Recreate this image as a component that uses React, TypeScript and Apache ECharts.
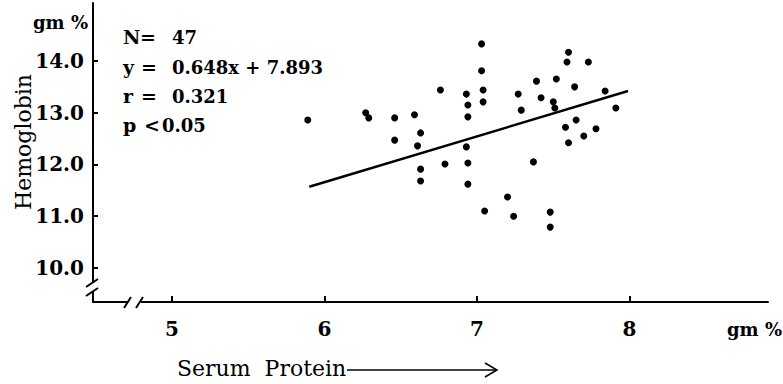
import React, { useEffect, useRef } from "react";
import * as echarts from "echarts";

// Serum protein (gm %) per subject
const proteinValues = [
  5.89, 6.27, 6.29, 6.46, 6.46, 6.59, 6.63, 6.61, 6.76, 6.93,
  6.94, 6.94, 6.93, 7.03, 7.03, 7.04, 7.04, 7.27, 7.29, 7.39,
  7.42, 7.5, 7.51, 7.52, 7.6, 7.59, 7.73, 7.64, 7.84, 7.91,
  7.58, 7.65, 7.78, 7.7, 7.6, 6.63, 6.63, 6.79, 6.94, 6.94,
  7.37, 7.2, 7.05, 7.24, 7.48, 7.48,
];
// Hemoglobin (gm %) per subject
const hemoglobinValues = [
  12.86, 13.0, 12.9, 12.9, 12.47, 12.96, 12.61, 12.36, 13.44, 13.36,
  13.15, 12.92, 12.34, 14.33, 13.81, 13.44, 13.21, 13.36, 13.05, 13.61,
  13.29, 13.21, 13.09, 13.65, 14.17, 13.98, 13.98, 13.5, 13.42, 13.09,
  12.72, 12.86, 12.69, 12.55, 12.42, 11.91, 11.68, 12.01, 12.03, 11.62,
  12.05, 11.37, 11.1, 11.0, 11.08, 10.79,
];
// Regression line end points as drawn
const lineX = [5.9, 7.99];
const lineY = [11.57, 13.42];

const xTicks = [5, 6, 7, 8];
const yTicks = [10, 11, 12, 13, 14];

const statLetters = ["N", "y", "r", "p"];
const statOps = ["=", "=", "=", "<"];
const statValues = ["47", "0.648x + 7.893", "0.321", "0.05"];

const FONT = "DejaVu Serif";

export default function App() {
  const ref = useRef<HTMLDivElement>(null);
  useEffect(() => {
    document.body.style.margin = "0";
    const chart = echarts.init(ref.current!, null, { renderer: "svg" });
    const statGraphics: any[] = [];
    const rowY = [37, 67, 96, 125];
    statLetters.forEach((l, i) => {
      statGraphics.push({
        type: "text", x: 123, y: rowY[i],
        style: { text: l, font: `bold 19px "${FONT}"`, fill: "#000", verticalAlign: "middle" },
      });
      statGraphics.push({
        type: "text", x: i === 0 ? 140 : i === 3 ? 144 : 141, y: rowY[i],
        style: { text: statOps[i], font: `bold 19px "${FONT}"`, fill: "#000", verticalAlign: "middle" },
      });
      statGraphics.push({
        type: "text", x: i === 3 ? 162 : 172, y: rowY[i],
        style: { text: statValues[i], font: `bold 18px "${FONT}"`, fill: "#000", verticalAlign: "middle" },
      });
    });

    chart.setOption({
      animation: false,
      backgroundColor: "#fff",
      grid: { left: 93, right: 15, top: 3, bottom: 82, containLabel: false },
      xAxis: {
        type: "value",
        min: 4.482,
        max: 8.908,
        splitLine: { show: false },
        axisLine: { show: true, lineStyle: { color: "#000", width: 2 } },
        axisTick: {
          show: true, inside: true, length: 6, customValues: xTicks,
          lineStyle: { color: "#000", width: 2 },
        },
        axisLabel: {
          customValues: xTicks, margin: 17, color: "#000",
          fontFamily: FONT, fontSize: 20, fontWeight: "bold",
          formatter: (v: number) => String(v),
        },
      },
      yAxis: {
        type: "value",
        min: 9.343,
        max: 15.12,
        splitLine: { show: false },
        axisLine: { show: true, lineStyle: { color: "#000", width: 2 } },
        axisTick: {
          show: true, inside: true, length: 5, customValues: yTicks,
          lineStyle: { color: "#000", width: 2 },
        },
        axisLabel: {
          customValues: yTicks, margin: 9, color: "#000",
          fontFamily: FONT, fontSize: 20, fontWeight: "bold",
          formatter: (v: number) => v.toFixed(1),
        },
      },
      series: [
        {
          type: "scatter",
          data: proteinValues.map((x, i) => [x, hemoglobinValues[i]]),
          symbol: "circle",
          symbolSize: 7,
          itemStyle: { color: "#000", opacity: 1 },
        },
        {
          type: "line",
          data: lineX.map((x, i) => [x, lineY[i]]),
          showSymbol: false,
          symbol: "none",
          lineStyle: { color: "#000", width: 2.5 },
        },
      ],
      graphic: [
        // axis breaks
        { type: "rect", shape: { x: 127, y: 298, width: 14, height: 9 }, style: { fill: "#fff" }, z: 100 },
        { type: "line", shape: { x1: 124, y1: 308, x2: 131, y2: 297 }, style: { stroke: "#000", lineWidth: 2 }, z: 101 },
        { type: "line", shape: { x1: 136, y1: 308, x2: 143, y2: 297 }, style: { stroke: "#000", lineWidth: 2 }, z: 101 },
        { type: "rect", shape: { x: 88, y: 283, width: 9, height: 9 }, style: { fill: "#fff" }, z: 100 },
        { type: "line", shape: { x1: 86, y1: 287, x2: 98, y2: 279 }, style: { stroke: "#000", lineWidth: 2 }, z: 101 },
        { type: "line", shape: { x1: 86, y1: 296, x2: 98, y2: 288 }, style: { stroke: "#000", lineWidth: 2 }, z: 101 },
        // axis units and titles
        {
          type: "text", x: 88, y: 22,
          style: { text: "gm %", font: `bold 18px "${FONT}"`, fill: "#000", align: "right", verticalAlign: "middle" },
        },
        {
          type: "text", x: 782, y: 329,
          style: { text: "gm %", font: `bold 18px "${FONT}"`, fill: "#000", align: "right", verticalAlign: "middle" },
        },
        {
          type: "text", x: 23, y: 142, rotation: Math.PI / 2,
          style: { text: "Hemoglobin", font: `22px "${FONT}"`, fill: "#000", align: "center", verticalAlign: "middle" },
        },
        {
          type: "text", x: 177, y: 368,
          style: { text: "Serum  Protein", font: `22px "${FONT}"`, fill: "#000", align: "left", verticalAlign: "middle" },
        },
        { type: "line", shape: { x1: 347, y1: 370, x2: 496, y2: 370 }, style: { stroke: "#000", lineWidth: 1.5 } },
        { type: "polyline", shape: { points: [[485, 363], [497, 370], [485, 377]] }, style: { stroke: "#000", lineWidth: 1.5, fill: "none" } },
        ...statGraphics,
      ],
    });
    return () => chart.dispose();
  }, []);
  return <div ref={ref} style={{ width: 783, height: 384 }} />;
}
